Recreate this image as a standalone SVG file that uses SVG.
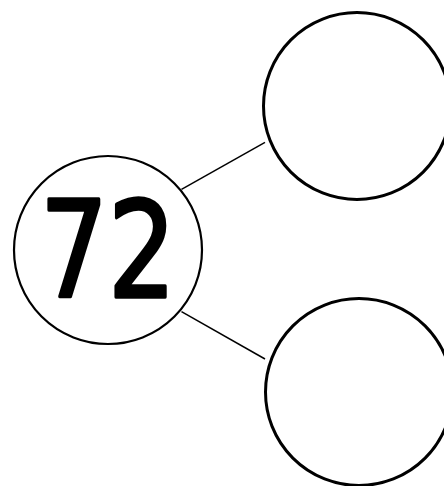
<svg xmlns="http://www.w3.org/2000/svg" width="444" height="486" viewBox="0 0 444 486">
<style>
.c{fill:#fff;stroke:#000}
.l{stroke:#000;stroke-width:1.5;fill:none}
.t{font-family:"DejaVu Sans","Liberation Sans",sans-serif;font-size:134px;fill:#000;stroke:#000;stroke-width:3.5;stroke-linejoin:round;stroke-linecap:round;text-anchor:middle}
</style>
<rect width="444" height="486" fill="#fff"/>
<g id="connectors">
<line class="l" x1="181.5" y1="189.3" x2="265" y2="142.3"/>
<line class="l" x1="181.5" y1="311.7" x2="265" y2="359"/>
</g>
<g id="node-72">
<circle class="c" cx="108" cy="250" r="94" stroke-width="2.2"/>
<text class="t" x="108" y="297" textLength="136" lengthAdjust="spacingAndGlyphs">72</text>
</g>
<g id="node-top">
<circle class="c" cx="357" cy="106" r="93.5" stroke-width="3"/>
</g>
<g id="node-bottom">
<circle class="c" cx="359" cy="392" r="93.5" stroke-width="3"/>
</g>
</svg>
